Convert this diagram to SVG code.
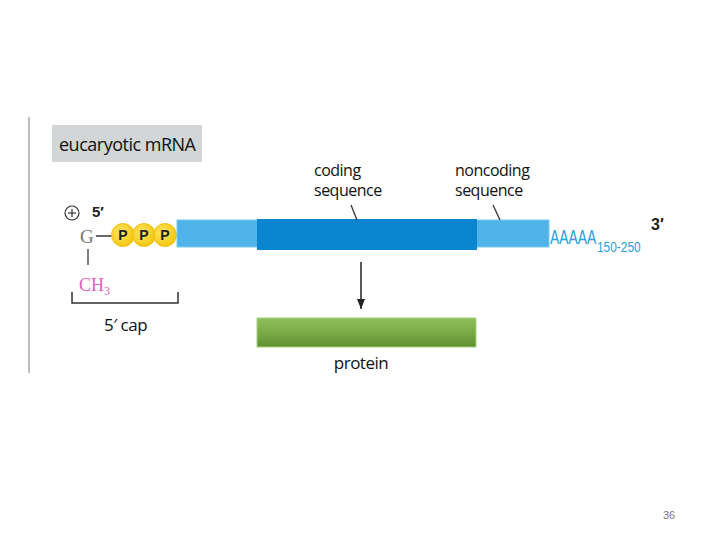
<svg xmlns="http://www.w3.org/2000/svg" width="720" height="540" viewBox="0 0 720 540">
<defs>
<style>
.lbl{font-family:"Open Sans","Liberation Sans",sans-serif;fill:#111;font-size:16px;letter-spacing:-0.5px}
.p{font-family:"Liberation Sans",sans-serif;font-weight:bold;font-size:14px;fill:#222}
.ln{stroke:#333;stroke-width:1.5;fill:none}
</style>
<radialGradient id="pg" cx="0.4" cy="0.4" r="0.7">
<stop offset="0" stop-color="#ffe66a"/>
<stop offset="1" stop-color="#f2c200"/>
</radialGradient>
<linearGradient id="gg" x1="0" y1="0" x2="0" y2="1">
<stop offset="0" stop-color="#8fbf5a"/>
<stop offset="0.5" stop-color="#7aab45"/>
<stop offset="1" stop-color="#5f8f30"/>
</linearGradient>
<marker id="ah" markerWidth="10" markerHeight="8" refX="10" refY="4" orient="auto" markerUnits="userSpaceOnUse" viewBox="0 0 10 8">
<path d="M0,0 L10,4 L0,8 Z" fill="#222"/>
</marker>
</defs>
<rect width="720" height="540" fill="#fff"/>
<line x1="29" y1="117" x2="29" y2="373" stroke="#aaa" stroke-width="1.5"/>
<g id="title">
<rect x="52" y="125" width="150" height="37" fill="#d2d6d6"/>
<text x="59" y="151" class="lbl" style="font-size:18px">eucaryotic mRNA</text>
</g>
<g id="cap">
<circle cx="72" cy="213" r="7" fill="none" stroke="#333" stroke-width="1.2"/>
<line x1="68" y1="213" x2="76" y2="213" stroke="#333" stroke-width="1.2"/>
<line x1="72" y1="209" x2="72" y2="217" stroke="#333" stroke-width="1.2"/>
<text x="92" y="217" class="p" style="font-size:15px">5′</text>
<text x="80" y="243" font-family="Liberation Serif,serif" font-size="19" fill="#777">G</text>
<line x1="96" y1="236" x2="112" y2="236" class="ln"/>
<line x1="88" y1="249" x2="88" y2="265" stroke="#555" stroke-width="1.5"/>
<text x="79" y="291" font-family="Liberation Serif,serif" font-size="18" fill="#e060c0">CH<tspan font-size="12" dy="4">3</tspan></text>
<path d="M72,292 V303 H178 V292" class="ln"/>
<text x="104" y="331" class="lbl" style="font-size:17px">5′ cap</text>
<circle cx="123" cy="235" r="11.5" fill="url(#pg)" stroke="#f0b800" stroke-width="0.8"/>
<circle cx="144" cy="235" r="11.5" fill="url(#pg)" stroke="#f0b800" stroke-width="0.8"/>
<circle cx="165" cy="235" r="11.5" fill="url(#pg)" stroke="#f0b800" stroke-width="0.8"/>
<text x="123" y="240" class="p" text-anchor="middle">P</text>
<text x="144" y="240" class="p" text-anchor="middle">P</text>
<text x="165" y="240" class="p" text-anchor="middle">P</text>
</g>
<g id="mrna">
<rect x="177" y="220" width="372" height="27" fill="#4fb3e8" stroke="#7cc8f0" stroke-width="1"/>
<rect x="257" y="219" width="220" height="31" fill="#0a86d0"/>
<text transform="translate(550,244) scale(0.66,1)" font-family="Liberation Sans,sans-serif" font-size="21" fill="#2aa0dc">AAAAA</text>
<text transform="translate(597,252) scale(0.85,1)" font-family="Liberation Sans,sans-serif" font-size="14" fill="#2aa0dc">150-250</text>
<text x="651" y="230" class="p" style="font-size:16px">3′</text>
</g>
<g id="coding">
<text x="314" y="176" class="lbl">coding</text>
<text x="314" y="196" class="lbl">sequence</text>
</g>
<g id="noncoding">
<text x="455" y="176" class="lbl">noncoding</text>
<text x="455" y="196" class="lbl">sequence</text>
</g>
<g id="protein">
<rect x="257" y="318" width="219" height="29" fill="url(#gg)" stroke="#a8d080" stroke-width="1"/>
<text x="361" y="369" class="lbl" text-anchor="middle" style="font-size:17px">protein</text>
</g>
<g id="connectors">
<line x1="351" y1="205" x2="357" y2="220" stroke="#333" stroke-width="1.3"/>
<line x1="493" y1="205" x2="500" y2="220" stroke="#333" stroke-width="1.3"/>
<line x1="361" y1="262" x2="361" y2="309" stroke="#222" stroke-width="1.5" marker-end="url(#ah)"/>
</g>
<text x="663" y="519" font-family="Liberation Sans,sans-serif" font-size="11" fill="#777">36</text>
</svg>
